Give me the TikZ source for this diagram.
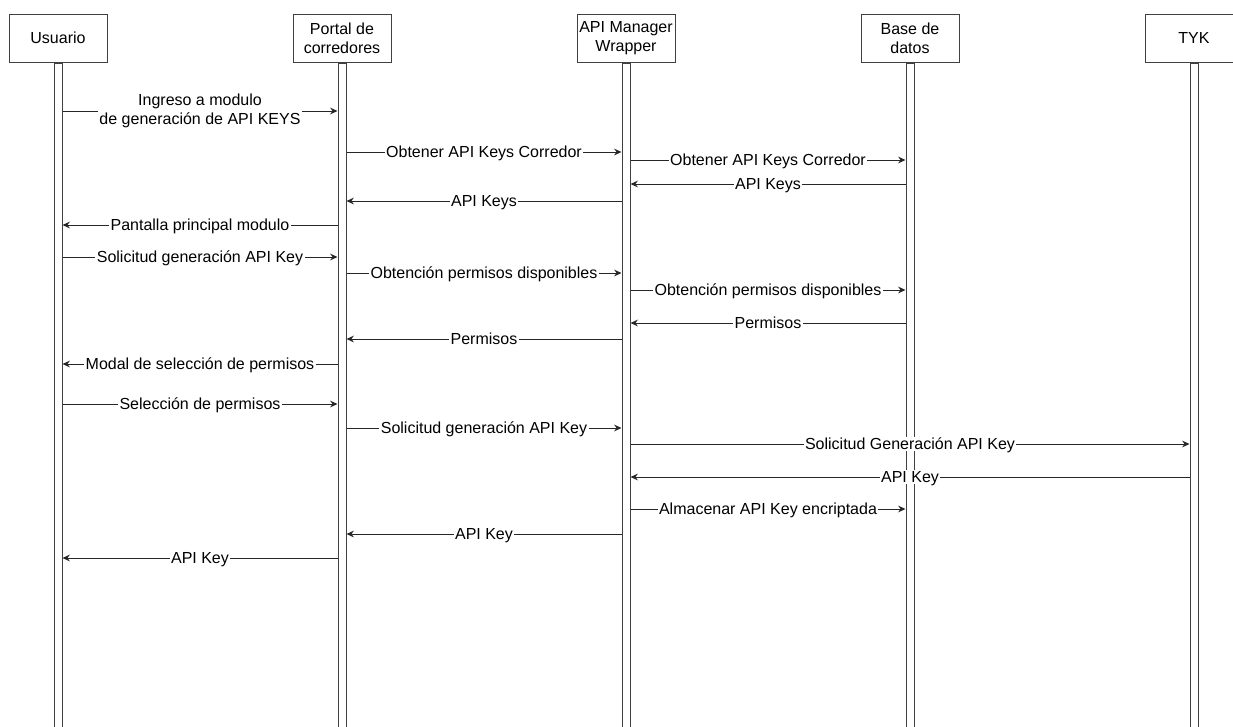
\documentclass[tikz,border=0pt]{standalone}
\usepackage{fontspec}
\setmainfont{Liberation Sans}
\usetikzlibrary{positioning,arrows.meta}

\begin{document}
\begin{tikzpicture}[x=0.75pt, y=-0.75pt,
    font=\fontsize{12}{14.25}\selectfont,
    actor/.style={draw=black!75, line width=0.75pt, minimum width=73.5pt, minimum height=36pt, inner sep=0pt, align=center},
    lifebar/.style={draw=black!75, fill=white, line width=0.75pt, minimum width=6pt, minimum height=510pt, inner sep=0pt},
    msg/.style={draw=black!85, line width=0.7pt, -{Stealth[length=5.5pt, width=5pt]}},
    lbl/.style={midway, fill=white, inner sep=1pt, text height=8.6pt, text depth=0pt}]
    % Marco
    \clip (0,0) rectangle (1233,726);

    % Participantes
    \node[actor] (usr) at (58,38) {Usuario};
    \node[actor] (port) at (342,38) {Portal de\\corredores};
    \node[actor] (api) at (626,38) {API Manager\\Wrapper};
    \node[actor] (bd) at (910,38) {Base de\\datos};
    \node[actor] (tyk) at (1194,38) {TYK};

    % Lineas de vida
    \node[lifebar, below=0pt of usr] (usrB) {};
    \node[lifebar, below=0pt of port] (portB) {};
    \node[lifebar, below=0pt of api] (apiB) {};
    \node[lifebar, below=0pt of bd] (bdB) {};
    \node[lifebar, below=0pt of tyk] (tykB) {};

    % Consulta de API Keys
    \draw[msg] (usrB.east |- 0,111) -- (portB.west |- 0,111) node[lbl, text height=, text depth=, align=center] {Ingreso a modulo\\de generación de API KEYS};
    \draw[msg] (portB.east |- 0,152) -- (apiB.west |- 0,152) node[lbl] {Obtener API Keys Corredor};
    \draw[msg] (apiB.east |- 0,160) -- (bdB.west |- 0,160) node[lbl] {Obtener API Keys Corredor};
    \draw[msg] (bdB.west |- 0,184) -- (apiB.east |- 0,184) node[lbl] {API Keys};
    \draw[msg] (apiB.west |- 0,201) -- (portB.east |- 0,201) node[lbl] {API Keys};
    \draw[msg] (portB.west |- 0,225) -- (usrB.east |- 0,225) node[lbl] {Pantalla principal modulo};

    % Permisos disponibles
    \draw[msg] (usrB.east |- 0,257) -- (portB.west |- 0,257) node[lbl] {Solicitud generación API Key};
    \draw[msg] (portB.east |- 0,273) -- (apiB.west |- 0,273) node[lbl] {Obtención permisos disponibles};
    \draw[msg] (apiB.east |- 0,290) -- (bdB.west |- 0,290) node[lbl] {Obtención permisos disponibles};
    \draw[msg] (bdB.west |- 0,323) -- (apiB.east |- 0,323) node[lbl] {Permisos};
    \draw[msg] (apiB.west |- 0,339) -- (portB.east |- 0,339) node[lbl] {Permisos};
    \draw[msg] (portB.west |- 0,364) -- (usrB.east |- 0,364) node[lbl] {Modal de selección de permisos};

    % Generacion de la API Key
    \draw[msg] (usrB.east |- 0,404) -- (portB.west |- 0,404) node[lbl] {Selección de permisos};
    \draw[msg] (portB.east |- 0,428) -- (apiB.west |- 0,428) node[lbl] {Solicitud generación API Key};
    \draw[msg] (apiB.east |- 0,444) -- (tykB.west |- 0,444) node[lbl] {Solicitud Generación API Key};
    \draw[msg] (tykB.west |- 0,477) -- (apiB.east |- 0,477) node[lbl] {API Key};
    \draw[msg] (apiB.east |- 0,509) -- (bdB.west |- 0,509) node[lbl] {Almacenar API Key encriptada};
    \draw[msg] (apiB.west |- 0,534) -- (portB.east |- 0,534) node[lbl] {API Key};
    \draw[msg] (portB.west |- 0,558) -- (usrB.east |- 0,558) node[lbl] {API Key};
\end{tikzpicture}
\end{document}
